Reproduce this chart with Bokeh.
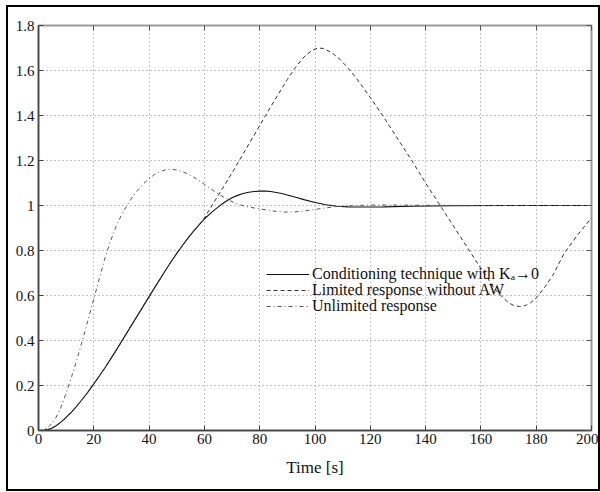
from bokeh.plotting import figure
from bokeh.models import Range1d, FixedTicker, LinearAxis, Legend, LegendItem
from bokeh.embed import file_html
from bokeh.resources import INLINE

# ---- data ----
t_cond = [0, 2, 4, 6, 8, 10, 12, 14, 16, 18, 20, 22, 24, 26, 28, 30, 32, 34, 36,
          38, 40, 42, 44, 46, 48, 50, 52, 54, 56, 58, 60, 62, 64, 66, 68, 70, 72,
          74, 76, 78, 80, 82, 84, 86, 88, 90, 93, 96, 100, 104, 108, 112, 118,
          125, 135, 150, 170, 200]
y_cond = [0, 0.001, 0.006, 0.018, 0.036, 0.058, 0.083, 0.111, 0.141, 0.173,
          0.207, 0.242, 0.278, 0.316, 0.355, 0.395, 0.435, 0.475, 0.515, 0.555,
          0.595, 0.635, 0.674, 0.713, 0.751, 0.787, 0.821, 0.854, 0.885, 0.913,
          0.94, 0.963, 0.984, 1.003, 1.02, 1.034, 1.045, 1.053, 1.059, 1.062,
          1.064, 1.064, 1.062, 1.058, 1.053, 1.047, 1.037, 1.026, 1.013, 1.003,
          0.997, 0.994, 0.993, 0.994, 0.997, 0.999, 1.0, 1.0]

t_lim = [0, 2, 4, 6, 8, 10, 12, 14, 16, 18, 20, 22, 24, 26, 28, 30, 32, 34, 36,
         38, 40, 42, 44, 46, 48, 50, 52, 54, 56, 58, 60, 62, 65, 70, 75, 80, 85,
         90, 93, 96, 99, 101, 103, 106, 109, 112, 115, 120, 125, 130, 135, 140,
         145, 150, 155, 160, 165, 168, 170, 172, 174, 176, 178, 180, 183, 186,
         190, 195, 200]
y_lim = [0, 0.001, 0.006, 0.018, 0.036, 0.058, 0.083, 0.111, 0.141, 0.173,
         0.207, 0.242, 0.278, 0.316, 0.355, 0.395, 0.435, 0.475, 0.515, 0.555,
         0.595, 0.635, 0.674, 0.713, 0.751, 0.787, 0.821, 0.854, 0.885, 0.913,
         0.945, 0.985, 1.045, 1.145, 1.25, 1.355, 1.46, 1.56, 1.615, 1.66, 1.69,
         1.70, 1.698, 1.68, 1.65, 1.61, 1.565, 1.48, 1.39, 1.295, 1.20, 1.10,
         1.005, 0.91, 0.815, 0.72, 0.63, 0.59, 0.568, 0.555, 0.551, 0.555, 0.568,
         0.59, 0.635, 0.69, 0.785, 0.87, 0.945]

t_unl = [0, 2, 4, 6, 8, 10, 12, 14, 16, 18, 20, 22, 24, 26, 28, 30, 32, 34, 36,
         38, 40, 42, 44, 46, 48, 50, 52, 54, 56, 58, 60, 62, 64, 66, 68, 70, 72,
         74, 76, 78, 80, 83, 86, 89, 92, 95, 98, 102, 106, 110, 115, 120, 130,
         140, 160, 200]
y_unl = [0, 0.004, 0.02, 0.05, 0.1, 0.165, 0.24, 0.32, 0.405, 0.495, 0.585,
         0.675, 0.765, 0.84, 0.905, 0.958, 1.0, 1.038, 1.07, 1.097, 1.12, 1.138,
         1.151, 1.159, 1.161, 1.158, 1.151, 1.14, 1.127, 1.111, 1.094, 1.077,
         1.06, 1.044, 1.03, 1.017, 1.007, 0.999, 0.993, 0.989, 0.985, 0.979,
         0.974, 0.971, 0.971, 0.974, 0.979, 0.986, 0.993, 0.997, 1.0, 1.002,
         1.002, 1.001, 1.0, 1.0]

x_ticks = [0, 20, 40, 60, 80, 100, 120, 140, 160, 180, 200]
y_ticks = [0, 0.2, 0.4, 0.6, 0.8, 1, 1.2, 1.4, 1.6, 1.8]
y_tick_labels = {0: "0", 1: "1"}

labels = ["Conditioning technique with K\u2090\u21920",
          "Limited response without AW",
          "Unlimited response"]

FONT = "Liberation Serif"

p = figure(width=590, height=482, output_backend="svg", toolbar_location=None,
           x_range=Range1d(0, 200), y_range=Range1d(0, 1.8),
           min_border_left=30, min_border_right=11, min_border_top=18,
           min_border_bottom=63)
p.styles = {"border": "2px solid black", "box-sizing": "content-box",
            "margin-left": "6px", "margin-top": "5px"}
p.background_fill_color = "white"
p.border_fill_color = "white"
p.outline_line_color = "#9a9a9a"
p.outline_line_width = 2

for ax in (p.xaxis[0], p.yaxis[0]):
    ax.axis_line_color = "#444444"
    ax.axis_line_width = 1.5
    ax.major_tick_in = 5
    ax.major_tick_out = 0
    ax.minor_tick_line_color = None
    ax.major_tick_line_color = "#444444"
    ax.major_label_text_font = FONT
    ax.major_label_text_font_size = "15px"
    ax.major_label_text_color = "#111111"

p.xaxis.ticker = FixedTicker(ticks=x_ticks)
p.yaxis.ticker = FixedTicker(ticks=y_ticks)
p.yaxis.major_label_overrides = y_tick_labels
p.xaxis.major_label_standoff = 3
p.yaxis.major_label_standoff = 4
p.xaxis.axis_label = "Time [s]"
p.xaxis.axis_label_text_font = FONT
p.xaxis.axis_label_text_font_size = "17px"
p.xaxis.axis_label_text_font_style = "normal"
p.xaxis.axis_label_text_color = "#111111"
p.xaxis.axis_label_standoff = 11

for loc, tks in (("above", x_ticks), ("right", y_ticks)):
    a = LinearAxis(ticker=FixedTicker(ticks=tks),
                   major_label_overrides={t: "" for t in tks},
                   major_tick_in=5, major_tick_out=0, minor_tick_line_color=None,
                   axis_line_color=None, major_tick_line_color="#555555",
                   major_label_standoff=0)
    p.add_layout(a, loc)

p.grid.grid_line_color = "#888888"
p.grid.grid_line_dash = "1 3"
p.xgrid.ticker = FixedTicker(ticks=x_ticks)
p.ygrid.ticker = FixedTicker(ticks=y_ticks)

r1 = p.line(t_cond, y_cond, line_color="#111111", line_width=1.1)
r2 = p.line(t_lim, y_lim, line_color="#333333", line_width=1, line_dash="4 3")
r3 = p.line(t_unl, y_unl, line_color="#555555", line_width=1, line_dash="4 3 1 3")

# one legend row per entry, so the rows can sit as close as in the reference
for lab, rend, ybot in zip(labels, (r1, r2, r3), (147, 131, 115)):
    lg = Legend(items=[LegendItem(label=lab, renderers=[rend])],
                location=(228, ybot), padding=0, margin=0, spacing=0,
                glyph_width=43, glyph_height=18, label_height=18,
                label_standoff=3, label_text_font=FONT,
                label_text_font_size="16px", label_text_color="#111111",
                background_fill_alpha=0, border_line_color=None)
    p.add_layout(lg)

open("out.html", "w").write(file_html(p, INLINE))
